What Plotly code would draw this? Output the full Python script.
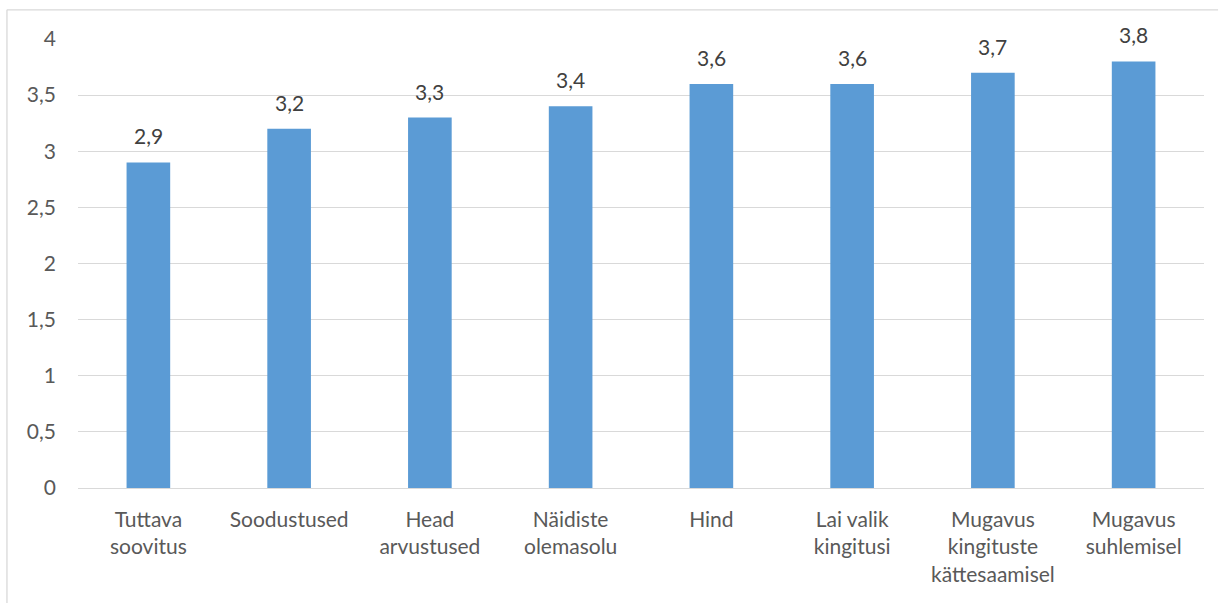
import plotly.graph_objects as go

categories = [
    "Tuttava<br>soovitus",
    "Soodustused",
    "Head<br>arvustused",
    "Näidiste<br>olemasolu",
    "Hind",
    "Lai valik<br>kingitusi",
    "Mugavus<br>kingituste<br>kättesaamisel",
    "Mugavus<br>suhlemisel",
]
values = [2.9, 3.2, 3.3, 3.4, 3.6, 3.6, 3.7, 3.8]
y_ticks = [0, 0.5, 1, 1.5, 2, 2.5, 3, 3.5, 4]

FONT = "Lato, Calibri, Carlito, sans-serif"
TEXT = "#595959"
GRID = "#D9D9D9"
BAR = "#5B9BD5"
FS = 21

fig = go.Figure(
    go.Bar(
        x=categories,
        y=values,
        marker=dict(color=BAR, line=dict(width=0)),
        width=0.31,
        hoverinfo="x+y",
    )
)

# value labels above each bar, formatted with a decimal comma
for cat, v in zip(categories, values):
    fig.add_annotation(
        x=cat, y=v, text=f"{v:.1f}".replace(".", ","),
        showarrow=False, yanchor="bottom", yshift=12,
        font=dict(family=FONT, size=FS, color="#404040"),
    )

# thin outer chart border
for x0, y0, x1, y1 in [(-0.0631, 1.065, 1.0125, 1.065), (-0.0631, 1.065, -0.0631, -0.3)]:
    fig.add_shape(type="line", xref="paper", yref="paper", x0=x0, y0=y0, x1=x1, y1=y1,
                  line=dict(color=GRID, width=1.3))

fig.update_layout(
    width=1221, height=603,
    margin=dict(l=78, r=17, t=39, b=115),
    paper_bgcolor="white", plot_bgcolor="white",
    separators=",.",
    showlegend=False,
    font=dict(family=FONT, size=FS, color=TEXT),
)
fig.update_xaxes(
    showgrid=False, showline=False, ticks="",
    ticklabelstandoff=17,
    tickfont=dict(family=FONT, size=FS, color=TEXT),
)
fig.update_yaxes(
    range=[0, 4], tickvals=y_ticks, showgrid=True, gridcolor=GRID, gridwidth=1.3,
    zeroline=True, zerolinecolor=GRID, zerolinewidth=1.3, showline=False, ticks="",
    ticklabelstandoff=21,
    tickfont=dict(family=FONT, size=FS, color=TEXT),
)

fig.write_html("out.html")
